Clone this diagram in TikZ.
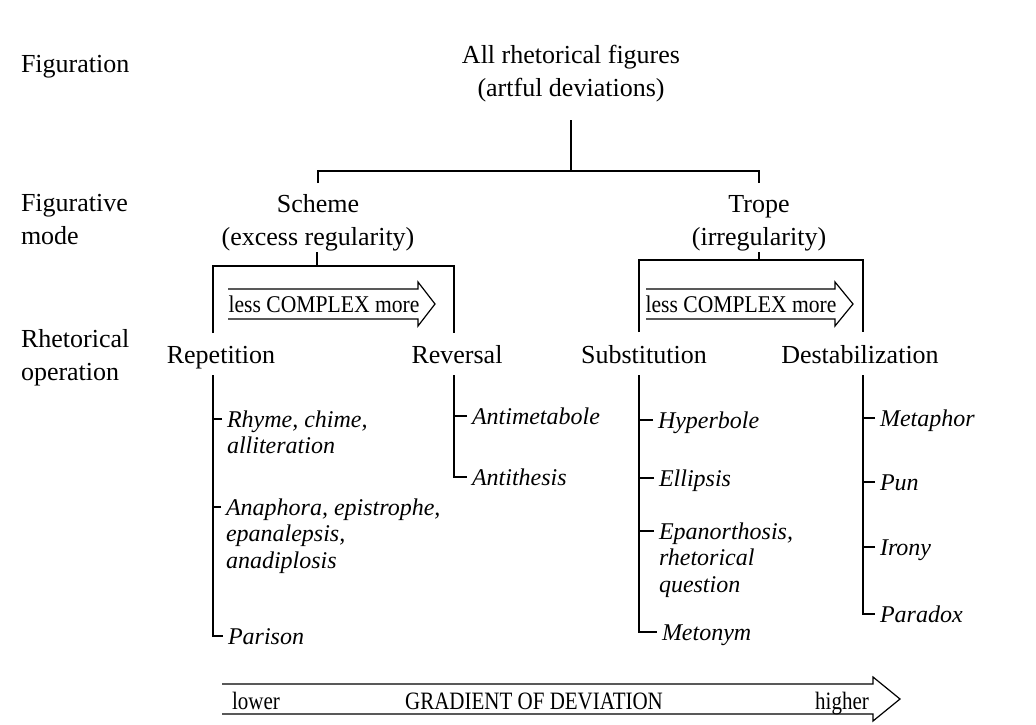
\documentclass[tikz,border=0pt]{standalone}
\usepackage{graphicx}
\usepackage{fontspec}
\setmainfont{Liberation Serif}
\begin{document}
\begin{tikzpicture}[x=1pt,y=-1pt,
  every node/.style={inner sep=0pt, outer sep=0pt},
  lbl/.style={font=\fontsize{26}{33}\selectfont, anchor=base},
  side/.style={font=\fontsize{26}{33.5}\selectfont, anchor=base west},
  op/.style={font=\fontsize{26}{33}\selectfont, anchor=base},
  item/.style={font=\fontsize{24}{26.5}\selectfont\itshape, anchor=base west},
  atext/.style={font=\fontsize{24}{28}\selectfont, anchor=base},
  gtext/.style={font=\fontsize{25}{28}\selectfont, anchor=base},
  ln/.style={line width=1.2pt},
  arr/.style={line width=1.2pt, line join=miter}]
\useasboundingbox (0,0) rectangle (1036,724);

% left labels
\node[side] (lfig) at (21,72) {Figuration};
\node[side] (lmode) at (21,211) {\begin{tabular}[t]{@{}l@{}}Figurative\\mode\end{tabular}};
\node[side] (lop) at (21,347) {\begin{tabular}[t]{@{}l@{}}Rhetorical\\operation\end{tabular}};

% top
\node[lbl] (all) at (571,63) {\begin{tabular}[t]{@{}c@{}}All rhetorical figures\\(artful deviations)\end{tabular}};
\node[lbl] (scheme) at (318,212) {\begin{tabular}[t]{@{}c@{}}Scheme\\(excess regularity)\end{tabular}};
\node[lbl] (trope) at (759,212) {\begin{tabular}[t]{@{}c@{}}Trope\\(irregularity)\end{tabular}};

\coordinate (a0) at (571,120);
\coordinate (a1) at (571,171);
\coordinate (bl) at (318,183);
\coordinate (br) at (759,183);
\draw[ln] (a0) -- (a1);
\draw[ln] (bl) |- (a1) -| (br);

% scheme bracket
\coordinate (sc0) at (317,252);
\coordinate (sc1) at (317,266);
\coordinate (scl) at (213,333);
\coordinate (scr) at (454,333);
\draw[ln] (sc0) -- (sc1);
\draw[ln] (scl) |- (sc1) -| (scr);

% trope bracket
\coordinate (tr0) at (759,252);
\coordinate (tr1) at (759,260);
\coordinate (trl) at (639,332);
\coordinate (trr) at (863,332);
\draw[ln] (tr0) -- (tr1);
\draw[ln] (trl) |- (tr1) -| (trr);

% complexity arrows
\draw[arr] (228,289) -- (418,289) -- (418,282) -- (435,304) -- (418,326) -- (418,319) -- (228,319);
\node[atext] (cx1) at (324,312) {\scalebox{0.9}[1]{less COMPLEX more}};
\draw[arr] (646,289) -- (835,289) -- (835,282) -- (853,304) -- (835,326) -- (835,319) -- (646,319);
\node[atext] (cx2) at (741,312) {\scalebox{0.9}[1]{less COMPLEX more}};

% operations
\node[op] (rep) at (221,363) {Repetition};
\node[op] (rev) at (457,363) {Reversal};
\node[op] (sub) at (644,363) {Substitution};
\node[op] (des) at (860,363) {Destabilization};

\coordinate (rsp) at (213,375);
\coordinate (vsp) at (454,375);
\coordinate (ssp) at (639,375);
\coordinate (dsp) at (863,375);

% repetition items
\node[item] (r1) at (227,427) {\begin{tabular}[t]{@{}l@{}}Rhyme, chime,\\alliteration\end{tabular}};
\node[item] (r2) at (226,515) {\begin{tabular}[t]{@{}l@{}}Anaphora, epistrophe,\\epanalepsis,\\anadiplosis\end{tabular}};
\node[item] (r3) at (228,644) {Parison};
% reversal items
\node[item] (v1) at (472,424) {Antimetabole};
\node[item] (v2) at (472,485) {Antithesis};
% substitution items
\node[item] (s1) at (658,428) {Hyperbole};
\node[item] (s2) at (659,486) {Ellipsis};
\node[item] (s3) at (659,539) {\begin{tabular}[t]{@{}l@{}}Epanorthosis,\\rhetorical\\question\end{tabular}};
\node[item] (s4) at (662,640) {Metonym};
% destabilization items
\node[item] (d1) at (880,426) {Metaphor};
\node[item] (d2) at (880,490) {Pun};
\node[item] (d3) at (880,555) {Irony};
\node[item] (d4) at (880,622) {Paradox};

\foreach \n in {r1,r2,r3,v1,v2,s1,s2,s3,s4,d1,d2,d3,d4}{
  \coordinate (k\n) at ([xshift=-5pt,yshift=8pt]\n.base west);
}
% spines
\draw[ln] (rsp) |- (kr3);
\draw[ln] (kr1) -- (rsp |- kr1);
\draw[ln] (kr2) -- (rsp |- kr2);
\draw[ln] (vsp) |- (kv2);
\draw[ln] (kv1) -- (vsp |- kv1);
\draw[ln] (ssp) |- (ks4);
\draw[ln] (ks1) -- (ssp |- ks1);
\draw[ln] (ks2) -- (ssp |- ks2);
\draw[ln] (ks3) -- (ssp |- ks3);
\draw[ln] (dsp) |- (kd4);
\draw[ln] (kd1) -- (dsp |- kd1);
\draw[ln] (kd2) -- (dsp |- kd2);
\draw[ln] (kd3) -- (dsp |- kd3);

% gradient arrow
\draw[arr] (222,684) -- (873,684) -- (873,677) -- (900,699) -- (873,721) -- (873,714) -- (222,714);
\node[gtext] (glo) at (256,709) {\scalebox{0.84}[1]{lower}};
\node[gtext] (gmid) at (534,709) {\scalebox{0.84}[1]{GRADIENT OF DEVIATION}};
\node[gtext] (ghi) at (842,709) {\scalebox{0.84}[1]{higher}};
\end{tikzpicture}
\end{document}
